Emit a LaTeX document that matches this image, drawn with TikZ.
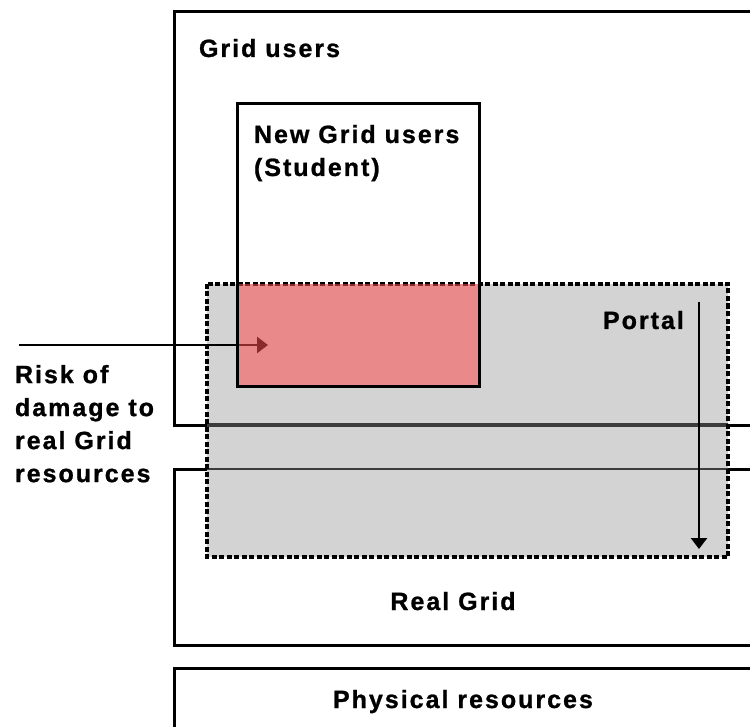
\documentclass[tikz,border=0pt]{standalone}
\usepackage{fontspec}
\setmainfont{Liberation Sans}[LetterSpace=8,BoldFeatures={FakeBold=1}]
\usetikzlibrary{arrows.meta}
\definecolor{portalgray}{RGB}{211,211,211}
\definecolor{riskred}{RGB}{252,78,78}
\definecolor{crossline}{RGB}{60,60,60}
\begin{document}
\begin{tikzpicture}[x=1pt,y=-1pt,
  layerbox/.style={draw=black, line width=3pt, inner sep=0pt, outer sep=0pt,
    anchor=north west},
  portalbox/.style={fill=portalgray, inner sep=0pt, outer sep=0pt, anchor=north west},
  portaledge/.style={draw=black, line width=3.4pt, dash pattern=on 5pt off 2.5pt},
  riskzone/.style={fill=riskred, fill opacity=0.55, inner sep=0pt, outer sep=0pt,
    anchor=north west},
  lbl/.style={font=\fontsize{25}{33}\selectfont\bfseries, inner sep=0pt,
    outer sep=0pt, anchor=base west},
  flow/.style={draw=black, line width=2.6pt,
    -{Triangle[length=11pt,width=16pt]}}
]
\useasboundingbox (0,0) rectangle (750,727);
\clip (0,0) rectangle (750,727);

% layers of the stack
\node[layerbox, minimum width=586pt, minimum height=413pt] (gridusers) at (174,12) {};
\node[layerbox, minimum width=586pt, minimum height=176pt] (realgrid) at (174,469) {};
\node[layerbox, minimum width=586pt, minimum height=90pt] (physical) at (174,668) {};

% portal spanning users and real grid
\node[portalbox, minimum width=521pt, minimum height=273pt] (portal) at (207,284) {};
\begin{scope}
  \clip (portal.north west) rectangle (portal.south east);
  \draw[crossline, line width=3.2pt] (gridusers.south west) -- (gridusers.south east);
  \draw[crossline, line width=2.4pt] (realgrid.north west) -- (realgrid.north east);
\end{scope}
\draw[portaledge] (portal.north west) rectangle (portal.south east);

% risk arrow from the left
\coordinate (riskstart) at (19,345);
\coordinate (riskend) at (268,345);
\draw[flow] (riskstart) -- (riskend);

% overlap of new users with the portal
\node[riskzone, minimum width=242pt, minimum height=103pt] (risk) at (237,284) {};

% new grid users
\node[layerbox, minimum width=242pt, minimum height=283pt] (student) at (237,104) {};

% portal direction arrow
\coordinate (portaltop) at (699,302);
\coordinate (portalbottom) at (699,549);
\draw[flow] (portaltop) -- (portalbottom);

% labels
\node[lbl] (tgrid) at (199,57) {Grid users};
\node[lbl] (tnew) at (254,143) {New Grid users};
\node[lbl] (tstudent) at (254,176) {(Student)};
\node[lbl] (tportal) at (603,329) {Portal};
\node[lbl, anchor=base] (treal) at (453,610) {Real Grid};
\node[lbl] (tphys) at (333,708) {Physical resources};
\node[lbl, anchor=north west, align=left] (trisk) at (15,365)
  {Risk of\\damage to\\real Grid\\resources};
\end{tikzpicture}
\end{document}
